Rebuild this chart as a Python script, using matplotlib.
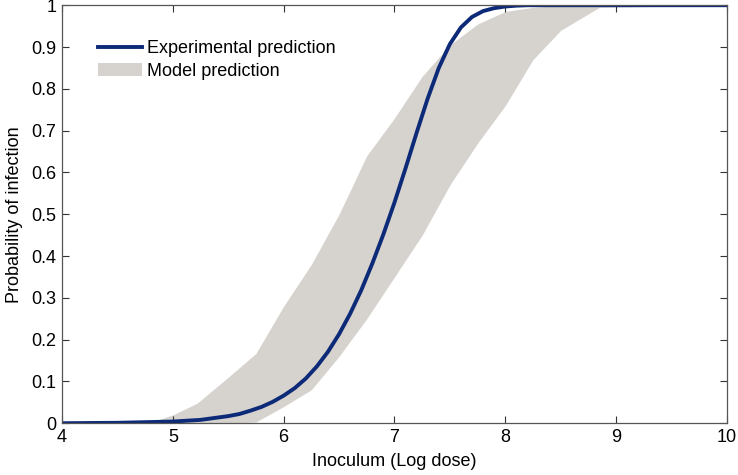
import numpy as np
import matplotlib.pyplot as plt

plt.rcParams['font.family'] = ['Liberation Sans', 'DejaVu Sans']

# experimental dose-response curve
exp_x = [4.0, 4.5, 5.0, 5.25, 5.5, 5.6, 5.7, 5.8, 5.9, 6.0, 6.1, 6.2, 6.3,
         6.4, 6.5, 6.6, 6.7, 6.8, 6.9, 7.0, 7.1, 7.2, 7.3, 7.4, 7.5, 7.6,
         7.7, 7.8, 7.9, 8.0, 8.1, 8.2, 10.0]
exp_y = [0.0, 0.001, 0.004, 0.008, 0.017, 0.022, 0.030, 0.039, 0.051, 0.066,
         0.084, 0.107, 0.136, 0.171, 0.213, 0.262, 0.318, 0.382, 0.452, 0.528,
         0.610, 0.695, 0.777, 0.850, 0.907, 0.947, 0.972, 0.986, 0.993, 0.997,
         0.999, 1.0, 1.0]

# model prediction band
band_x = [4.0, 4.77, 5.0, 5.22, 5.5, 5.75, 6.0, 6.25, 6.5, 6.75, 7.0, 7.25,
          7.5, 7.75, 8.0, 8.25, 8.5, 8.85, 10.0]
band_hi = [0.0, 0.0, 0.02, 0.048, 0.11, 0.167, 0.28, 0.38, 0.50, 0.64, 0.73,
           0.83, 0.905, 0.955, 0.985, 0.995, 1.0, 1.0, 1.0]
band_lo = [0.0, 0.0, 0.0, 0.0, 0.0, 0.003, 0.04, 0.08, 0.16, 0.25, 0.35, 0.45,
           0.57, 0.67, 0.76, 0.87, 0.94, 0.995, 1.0]

fig = plt.figure(figsize=(7.38, 4.75), dpi=100)
ax = fig.add_axes([0.084, 0.109, 0.901, 0.880])

band = ax.fill_between(band_x, band_lo, band_hi, color='#d6d3ce', lw=0,
                       label='Model prediction')
line, = ax.plot(exp_x, exp_y, color='#0d2a78', lw=2.8,
                solid_joinstyle='round', label='Experimental prediction')

ax.set_xlim(4, 10)
ax.set_ylim(0, 1)
ax.set_xticks(range(4, 11))
yt = np.round(np.arange(0, 1.01, 0.1), 1)
ax.set_yticks(yt)
ax.set_yticklabels(['0'] + ['%.1f' % v for v in yt[1:-1]] + ['1'])
ax.tick_params(direction='in', top=True, right=True, length=5, width=0.8,
               color='#333333', labelsize=13, pad=4)
for s in ax.spines.values():
    s.set_color('#555555')
    s.set_linewidth(0.9)

ax.set_xlabel('Inoculum (Log dose)', fontsize=13, labelpad=5)
ax.set_ylabel('Probability of infection', fontsize=13, labelpad=6)

ax.legend(handles=[line, band], loc='upper left', bbox_to_anchor=(0.03, 0.955),
          frameon=False, fontsize=13, handlelength=2.4, handletextpad=0.3,
          labelspacing=0.3)

fig.savefig('out.png', dpi=100)
